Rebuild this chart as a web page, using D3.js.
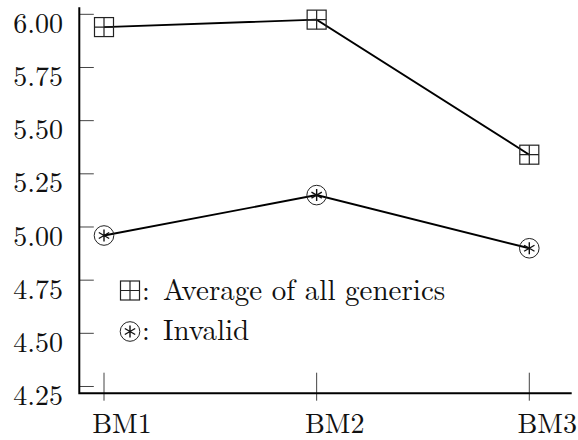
<!DOCTYPE html>
<html><head><meta charset="utf-8">
<script src="https://cdn.jsdelivr.net/npm/d3@7/dist/d3.min.js"></script>
<style>body{margin:0;background:#fff}svg{display:block}text{font-family:"Latin Modern Roman","Liberation Serif",serif;fill:#111}</style>
</head><body><svg id="c" width="578" height="440"></svg>
<script>
const categories = ["BM1", "BM2", "BM3"];
const averageGenerics = [5.94, 5.975, 5.34];
const invalid = [4.96, 5.15, 4.90];
const yTicks = [4.25, 4.50, 4.75, 5.00, 5.25, 5.50, 5.75, 6.00];
const legendLabels = ["Average of all generics", "Invalid"];

const svg = d3.select("#c");
const x = d3.scalePoint().domain(categories).range([104, 529.3]);
const y = d3.scaleLinear().domain([4.218, 6.033]).range([393.3, 7.3]);
const axisLeft = 79.3, axisRight = 571.7;

// y ticks (inside)
const yt = svg.append("g");
yt.selectAll("line").data(yTicks).join("line")
  .attr("x1", axisLeft).attr("x2", axisLeft + 14.5)
  .attr("y1", d => y(d)).attr("y2", d => y(d))
  .attr("stroke", "#444").attr("stroke-width", 1);
yt.selectAll("text").data(yTicks).join("text")
  .attr("x", 63).attr("y", d => y(d) + 18.6)
  .attr("text-anchor", "end").attr("font-size", 28)
  .text(d => d3.format(".2f")(d));

// x ticks
const xt = svg.append("g");
xt.selectAll("line").data(categories).join("line")
  .attr("x1", d => x(d)).attr("x2", d => x(d))
  .attr("y1", 372.7).attr("y2", 400.7)
  .attr("stroke", "#444").attr("stroke-width", 1);
xt.selectAll("text").data(categories).join("text")
  .attr("x", d => x(d) + 18).attr("y", 433)
  .attr("text-anchor", "middle").attr("font-size", 28)
  .text(d => d);

// axis lines
svg.append("path")
  .attr("d", `M${axisLeft},${y.range()[1]}V${y.range()[0]}H${axisRight}`)
  .attr("fill", "none").attr("stroke", "#000").attr("stroke-width", 2);

// series lines
const line = d3.line().x((d, i) => x(categories[i])).y(d => y(d));
[averageGenerics, invalid].forEach(s => {
  svg.append("path").attr("d", line(s))
    .attr("fill", "none").attr("stroke", "#000").attr("stroke-width", 1.9);
});

function boxPlus(g, cx, cy) {
  const h = 9.5;
  g.append("rect").attr("x", cx - h).attr("y", cy - h).attr("width", 2 * h).attr("height", 2 * h)
    .attr("fill", "none").attr("stroke", "#222").attr("stroke-width", 1.2);
  g.append("path").attr("d", `M${cx - h},${cy}H${cx + h}M${cx},${cy - h}V${cy + h}`)
    .attr("stroke", "#222").attr("stroke-width", 1.2);
}
function circledAst(g, cx, cy) {
  const r = 9.8, a = 6;
  g.append("circle").attr("cx", cx).attr("cy", cy).attr("r", r)
    .attr("fill", "none").attr("stroke", "#222").attr("stroke-width", 1);
  let d = "";
  [90, 30, 150].forEach(deg => {
    const t = deg * Math.PI / 180, dx = a * Math.cos(t), dy = a * Math.sin(t);
    d += `M${cx - dx},${cy - dy}L${cx + dx},${cy + dy}`;
  });
  g.append("path").attr("d", d).attr("stroke", "#111").attr("stroke-width", 1.4);
}

const mk = svg.append("g");
averageGenerics.forEach((v, i) => boxPlus(mk, x(categories[i]), y(v)));
invalid.forEach((v, i) => circledAst(mk, x(categories[i]), y(v)));

// legend
const lg = svg.append("g");
const rows = [300, 340];
boxPlus(lg, 130, rows[0] - 9.5);
circledAst(lg, 130, rows[1] - 8.5);
rows.forEach((b, i) => {
  lg.append("text").attr("x", 142).attr("y", b).attr("font-size", 28).text(":");
  lg.append("text").attr("x", 163).attr("y", b).attr("font-size", 29).text(legendLabels[i]);
});
</script></body></html>
